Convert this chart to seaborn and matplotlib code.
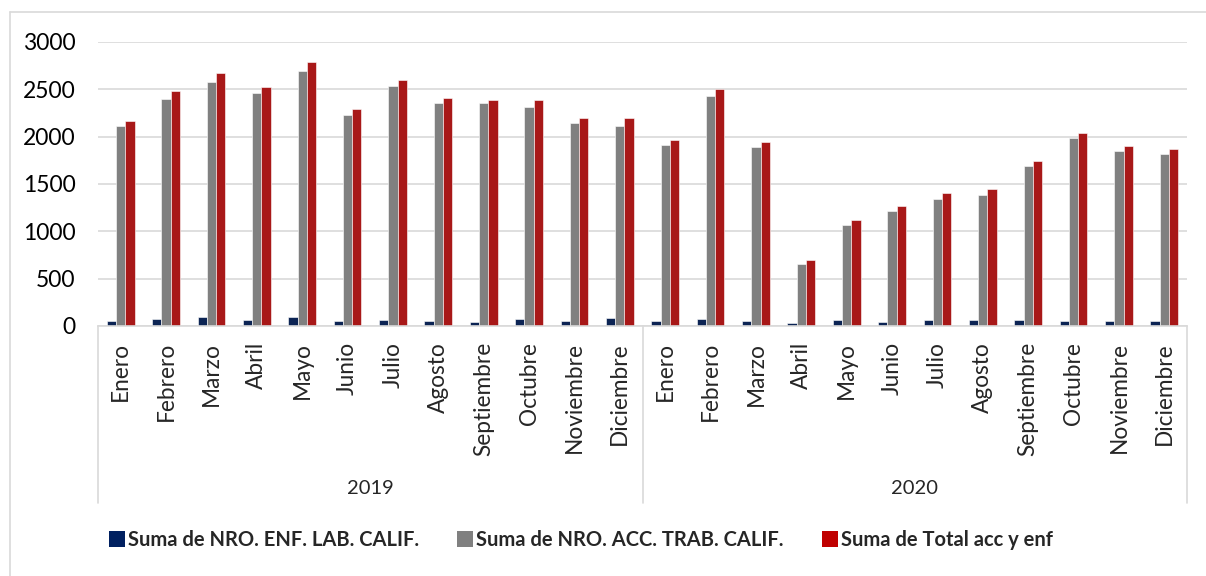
import numpy as np
import pandas as pd
import seaborn as sns
import matplotlib.pyplot as plt
from matplotlib.patches import Patch
from matplotlib.transforms import blended_transform_factory

# datos
meses = ['Enero', 'Febrero', 'Marzo', 'Abril', 'Mayo', 'Junio', 'Julio',
         'Agosto', 'Septiembre', 'Octubre', 'Noviembre', 'Diciembre']
anios = ['2019', '2020']

enf_2019 = [56, 74, 95, 63, 95, 56, 67, 56, 39, 70, 53, 81]
enf_2020 = [56, 77, 53, 28, 60, 46, 63, 67, 60, 56, 56, 53]
acc_2019 = [2110, 2402, 2577, 2458, 2690, 2229, 2535, 2353, 2353, 2317, 2149, 2117]
acc_2020 = [1913, 2430, 1892, 657, 1062, 1217, 1343, 1389, 1688, 1987, 1846, 1815]
tot_2019 = [2170, 2479, 2672, 2521, 2785, 2293, 2602, 2409, 2391, 2388, 2201, 2194]
tot_2020 = [1966, 2507, 1945, 693, 1125, 1266, 1407, 1452, 1748, 2043, 1902, 1867]

series = ['Suma de NRO. ENF. LAB. CALIF.',
          'Suma de NRO. ACC. TRAB. CALIF.',
          'Suma de Total acc y enf']
colores = ['#002060', '#808080', '#C00000']

cats = [a + ' ' + m for a in anios for m in meses]
valores = [enf_2019 + enf_2020, acc_2019 + acc_2020, tot_2019 + tot_2020]
df = pd.DataFrame({
    'cat': cats * 3,
    'serie': np.repeat(series, len(cats)),
    'valor': valores[0] + valores[1] + valores[2],
})

sns.set_style('white')
plt.rcParams['font.family'] = ['Lato', 'DejaVu Sans']

fig = plt.figure(figsize=(12.06, 5.76), dpi=100)
W, H = 1206, 576
ax = fig.add_axes([98 / W, 1 - 326 / H, 1089 / W, 284 / H])

sns.barplot(data=df, x='cat', y='valor', hue='serie', order=cats,
            hue_order=series, palette=colores, width=0.61, gap=0,
            edgecolor='white', linewidth=0.4, legend=False, ax=ax)

ax.set_ylim(0, 3000)
ax.set_xlim(-0.5, len(cats) - 0.5)
ax.set_yticks(range(0, 3001, 500))
ax.yaxis.grid(True, color='#D9D9D9', linewidth=1.2)
ax.set_axisbelow(True)
for s in ['top', 'right', 'left']:
    ax.spines[s].set_visible(False)
ax.spines['bottom'].set_color('#D9D9D9')
ax.spines['bottom'].set_linewidth(1.2)
ax.tick_params(axis='y', length=0, labelsize=16.5, pad=16, labelcolor='black')
ax.set_xticks([])
ax.set_xlabel('')
ax.set_ylabel('')

# etiquetas de dos niveles (mes / anio)
tr = blended_transform_factory(ax.transData, ax.transAxes)
for i, c in enumerate(cats):
    ax.text(i, -16 / 284, meses[i % 12], transform=tr, rotation=90,
            ha='center', va='top', fontsize=16.3)
for k, a in enumerate(anios):
    ax.text(k * 12 + 5.5, -163 / 284, a, transform=tr, ha='center',
            va='center', fontsize=14.5)
for xs in [-0.5, 11.5, 23.5]:
    ax.plot([xs, xs], [0, -177 / 284], transform=tr, color='#D9D9D9',
            linewidth=1.2, clip_on=False)

handles = [Patch(facecolor=c, edgecolor='none') for c in colores]
fig.legend(handles, series, loc='center', bbox_to_anchor=(581 / W, 1 - 540 / H),
           ncol=3, frameon=False, handlelength=0.8, handleheight=0.8,
           handletextpad=0.15, columnspacing=1.9,
           prop={'weight': 'bold', 'size': 14.5})

# borde del area del grafico
fig.add_artist(plt.Line2D([10 / W, 1], [1 - 12 / H, 1 - 12 / H], color='#D9D9D9', linewidth=1.2))
fig.add_artist(plt.Line2D([10 / W, 10 / W], [0, 1 - 12 / H], color='#D9D9D9', linewidth=1.2))

fig.savefig('out.png', dpi=100)
